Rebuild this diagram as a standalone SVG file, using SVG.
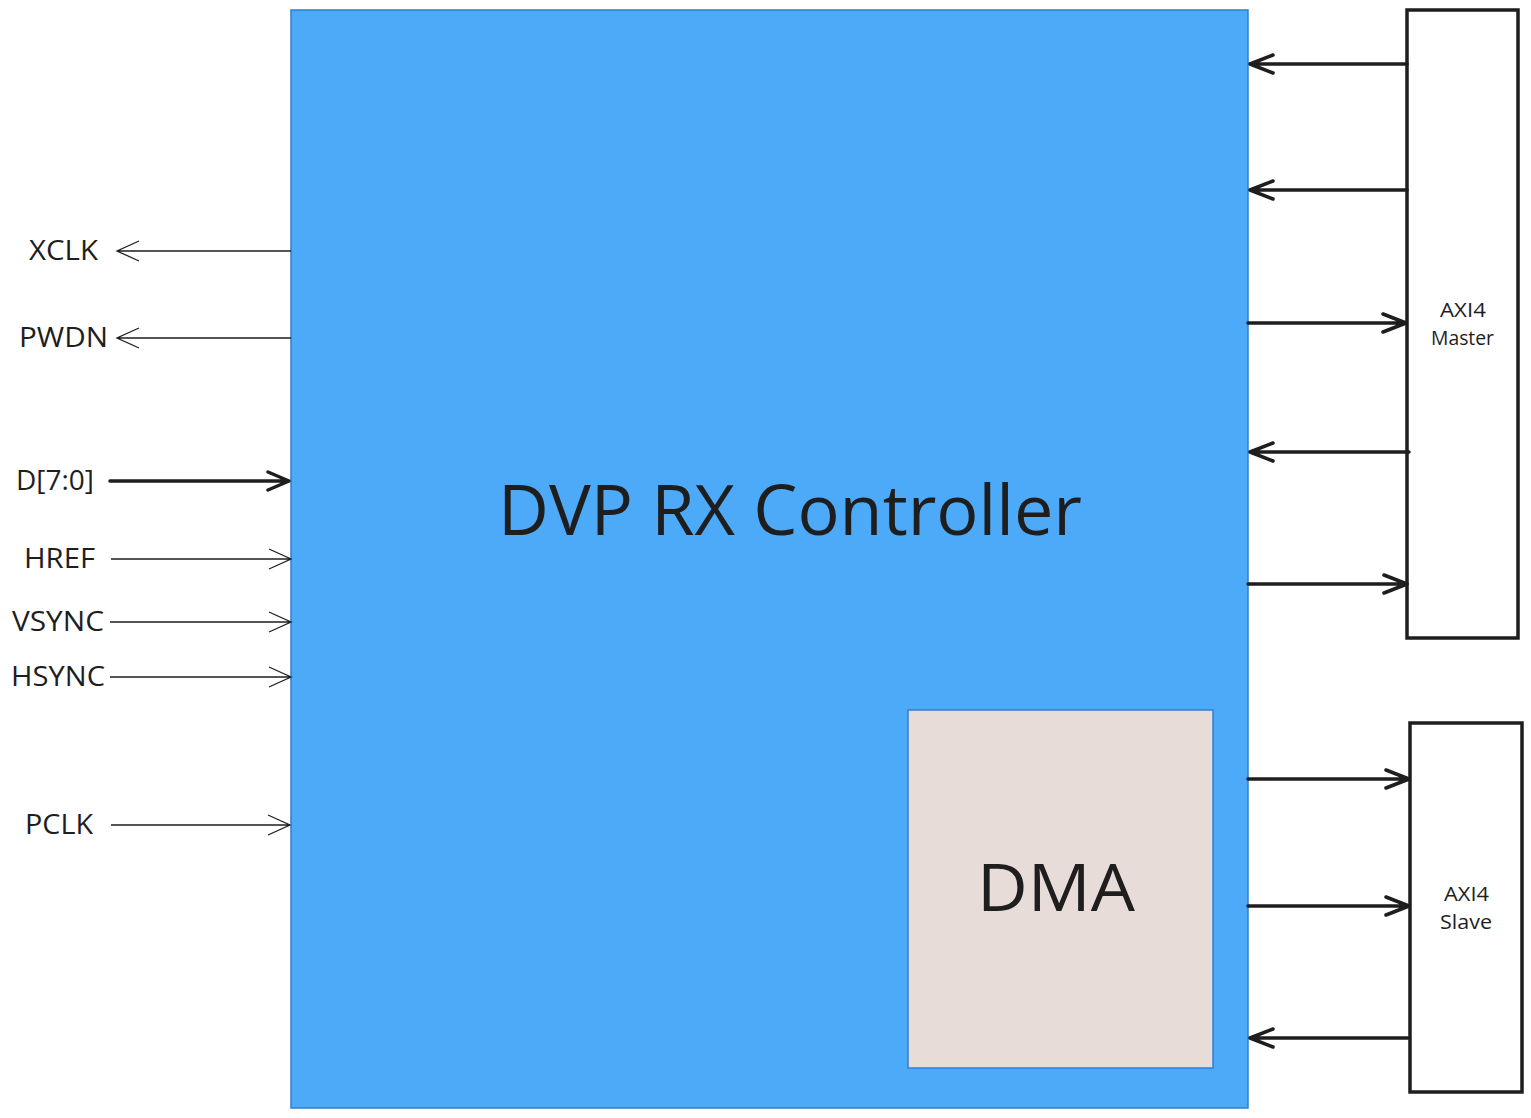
<svg xmlns="http://www.w3.org/2000/svg" width="1531" height="1118" viewBox="0 0 1531 1118">
<style>
text{font-family:"Open Sans","Liberation Sans",sans-serif;fill:#1e1e1e}
.thin{stroke:#1e1e1e;stroke-width:1.3;fill:none}
.thick{stroke:#1e1e1e;stroke-width:3.5;fill:none;stroke-linecap:round;stroke-linejoin:round}
.lbl{font-size:27px}
.box{fill:#fff;stroke:#1e1e1e;stroke-width:3.5}
</style>
<rect width="1531" height="1118" fill="#fff"/>
<g id="controller">
<rect x="291" y="10" width="957" height="1098" fill="#4DAAF8" stroke="#2F7FCF" stroke-width="1.5"/>
<text x="498" y="535" font-size="69" textLength="584" lengthAdjust="spacingAndGlyphs">DVP RX Controller</text>
</g>
<g id="dma">
<rect x="908" y="710" width="305" height="358" fill="#E8DCD8" stroke="#2F7FCF" stroke-width="1.5"/>
<text x="977" y="911" font-size="66" textLength="158" lengthAdjust="spacingAndGlyphs">DMA</text>
</g>
<g id="axi4-master">
<rect class="box" x="1407" y="10" width="111" height="628"/>
<text x="1440" y="317" font-size="20" textLength="46" lengthAdjust="spacingAndGlyphs">AXI4</text>
<text x="1431" y="345" font-size="20" textLength="63" lengthAdjust="spacingAndGlyphs">Master</text>
</g>
<g id="axi4-slave">
<rect class="box" x="1410" y="723" width="112" height="369"/>
<text x="1444" y="901" font-size="20" textLength="45" lengthAdjust="spacingAndGlyphs">AXI4</text>
<text x="1440" y="929" font-size="20" textLength="52" lengthAdjust="spacingAndGlyphs">Slave</text>
</g>
<g id="labels">
<text class="lbl" x="29" y="260" textLength="69" lengthAdjust="spacingAndGlyphs">XCLK</text>
<text class="lbl" x="19" y="347" textLength="89" lengthAdjust="spacingAndGlyphs">PWDN</text>
<text class="lbl" x="16" y="490" textLength="78" lengthAdjust="spacingAndGlyphs">D[7:0]</text>
<text class="lbl" x="24" y="568" textLength="71" lengthAdjust="spacingAndGlyphs">HREF</text>
<text class="lbl" x="12" y="631" textLength="92" lengthAdjust="spacingAndGlyphs">VSYNC</text>
<text class="lbl" x="11" y="686" textLength="94" lengthAdjust="spacingAndGlyphs">HSYNC</text>
<text class="lbl" x="25" y="834" textLength="68" lengthAdjust="spacingAndGlyphs">PCLK</text>
</g>
<g id="connectors">
<path class="thin" d="M291 251H117M139 241L117 251L139 261"/>
<path class="thin" d="M291 338H117M139 328L117 338L139 348"/>
<path class="thick" d="M110 481H289M268 472L289 481L268 490"/>
<path class="thin" d="M111 559H291M269 549L291 559L269 569"/>
<path class="thin" d="M110 622H291M269 612L291 622L269 632"/>
<path class="thin" d="M110 677H291M269 667L291 677L269 687"/>
<path class="thin" d="M111 825H290M268 815L290 825L268 835"/>
<path class="thick" d="M1407 64H1250M1273 55L1250 64L1273 73"/>
<path class="thick" d="M1407 190H1250M1273 181L1250 190L1273 199"/>
<path class="thick" d="M1248 323H1406M1383 314L1406 323L1383 332"/>
<path class="thick" d="M1409 452H1250M1273 443L1250 452L1273 461"/>
<path class="thick" d="M1248 584H1407M1384 575L1407 584L1384 593"/>
<path class="thick" d="M1248 779H1409M1386 770L1409 779L1386 788"/>
<path class="thick" d="M1248 906H1409M1386 897L1409 906L1386 915"/>
<path class="thick" d="M1408 1038H1250M1273 1029L1250 1038L1273 1047"/>
</g>
</svg>
